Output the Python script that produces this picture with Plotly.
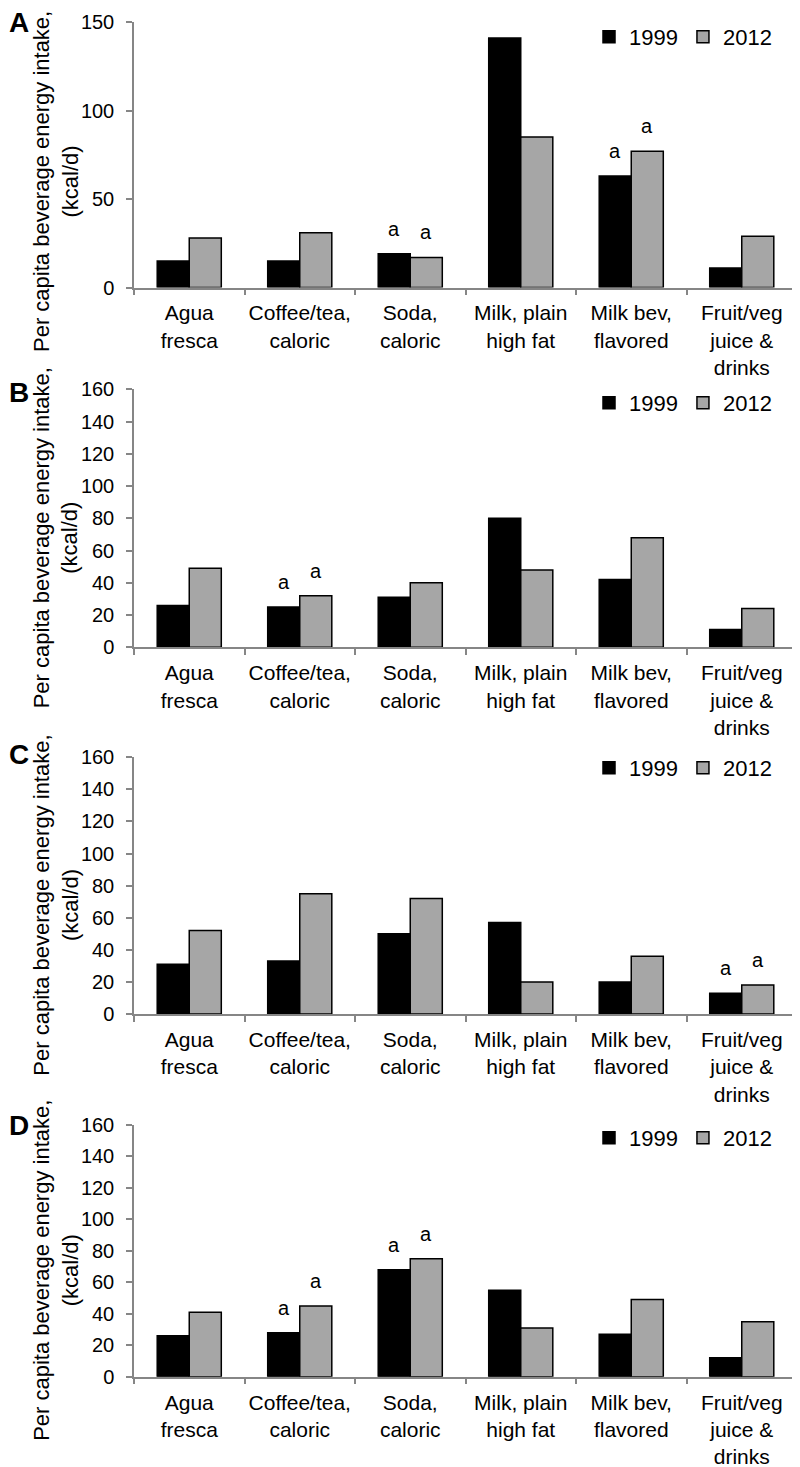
import plotly.graph_objects as go

categories = ["Agua<br>fresca", "Coffee/tea,<br>caloric", "Soda,<br>caloric",
              "Milk, plain<br>high fat", "Milk bev,<br>flavored", "Fruit/veg<br>juice &<br>drinks"]
years = ["1999", "2012"]
panels = ["A", "B", "C", "D"]

kcal_1999_a = [15, 15, 19, 141, 63, 11]
kcal_2012_a = [28, 31, 17, 85, 77, 29]
kcal_1999_b = [26, 25, 31, 80, 42, 11]
kcal_2012_b = [49, 32, 40, 48, 68, 24]
kcal_1999_c = [31, 33, 50, 57, 20, 13]
kcal_2012_c = [52, 75, 72, 20, 36, 18]
kcal_1999_d = [26, 28, 68, 55, 27, 12]
kcal_2012_d = [41, 45, 75, 31, 49, 35]

# "a" marks, same for the 1999 and 2012 bar of a category
sig_a = ["", "", "a", "", "a", ""]
sig_b = ["", "a", "", "", "", ""]
sig_c = ["", "", "", "", "", "a"]
sig_d = ["", "a", "a", "", "", ""]

y_max = [150, 160, 160, 160]
y_step = [50, 20, 20, 20]

data_1999 = [kcal_1999_a, kcal_1999_b, kcal_1999_c, kcal_1999_d]
data_2012 = [kcal_2012_a, kcal_2012_b, kcal_2012_c, kcal_2012_d]
sigs = [sig_a, sig_b, sig_c, sig_d]

# the page body keeps its default 8px margin, so the figure is drawn
# 8px smaller and all screen positions below are shifted by that
OFF = 8
W, H = 800 - OFF, 1467 - OFF
FONT = "Liberation Sans, Arial, sans-serif"
AXIS_GRAY = "#868686"
colors = ["#000000", "#A6A6A6"]

# plot area screen pixel boxes (top, bottom) per panel
boxes = [(22, 287.5), (389.3, 647.3), (757.3, 1014), (1125, 1376.7)]
x_left, x_right = 134, 797
letter_y = [23, 392, 754, 1125]
legend_y = [37, 403, 768, 1138]


def fx(px):
    return (px - OFF) / W


def fy(py):
    return 1 - (py - OFF) / H


fig = go.Figure()
layout = dict(
    width=W, height=H,
    margin=dict(l=0, r=0, t=0, b=0, autoexpand=False),
    paper_bgcolor="white", plot_bgcolor="white",
    font=dict(family=FONT, color="black"),
    barmode="group", bargap=0.42, bargroupgap=0,
    annotations=[],
)

for i, p in enumerate(panels):
    n = "" if i == 0 else str(i + 1)
    xa, ya = "x" + n, "y" + n
    lg = "legend" + n
    for yr, vals, col in zip(years, [data_1999[i], data_2012[i]], colors):
        fig.add_trace(go.Bar(
            x=categories, y=vals, name=yr,
            marker=dict(color=col, line=dict(color="black", width=1.5)),
            xaxis=xa, yaxis=ya, legend=lg,
        ))
    top, bot = boxes[i]
    layout["xaxis" + n] = dict(
        domain=[fx(x_left), fx(x_right)], anchor=ya,
        showline=True, linecolor=AXIS_GRAY, linewidth=1.5,
        ticks="outside", tickson="boundaries", ticklen=6, tickcolor=AXIS_GRAY, tickwidth=1.5,
        tickangle=0, ticklabelstandoff=6, automargin=False,
        tickfont=dict(size=21, family=FONT, color="black"),
        showgrid=False, zeroline=False, fixedrange=True,
    )
    layout["yaxis" + n] = dict(
        domain=[fy(bot), fy(top)], anchor=xa,
        range=[0, y_max[i]], dtick=y_step[i], tick0=0,
        showline=True, linecolor=AXIS_GRAY, linewidth=1.5,
        ticks="outside", ticklen=6, tickcolor=AXIS_GRAY, tickwidth=1.5,
        ticklabelstandoff=8, automargin=False,
        tickfont=dict(size=20, family=FONT, color="black"),
        showgrid=False, zeroline=False, fixedrange=True,
    )
    layout[lg] = dict(
        orientation="h", x=fx(589), xanchor="left",
        y=fy(legend_y[i]), yanchor="middle",
        font=dict(size=22, family=FONT, color="black"),
        bgcolor="rgba(0,0,0,0)", itemwidth=30, tracegroupgap=0,
    )
    # panel letter
    layout["annotations"].append(dict(
        text="<b>%s</b>" % p, x=fx(19), y=fy(letter_y[i]), xref="paper", yref="paper",
        showarrow=False, xanchor="center", yanchor="middle",
        font=dict(size=28, family=FONT, color="black"),
    ))
    # y axis title, kept inside the page
    title_y = max((top + bot) / 2 + 20, OFF + 174)
    layout["annotations"].append(dict(
        text="Per capita beverage energy intake,<br>(kcal/d)",
        x=fx(56), y=fy(title_y), xref="paper", yref="paper",
        showarrow=False, textangle=-90, xanchor="center", yanchor="middle",
        font=dict(size=22, family=FONT, color="black"),
    ))
    # significance marks
    for j, (cat, s) in enumerate(zip(categories, sigs[i])):
        if not s:
            continue
        for k, vals in enumerate([data_1999[i], data_2012[i]]):
            layout["annotations"].append(dict(
                text=s, x=cat, y=vals[j], xref=xa, yref=ya,
                xshift=-16 if k == 0 else 16, yshift=25,
                showarrow=False, xanchor="center", yanchor="middle",
                font=dict(size=20, family=FONT, color="black"),
            ))

fig.update_layout(**layout)
fig.write_html("out.html")
